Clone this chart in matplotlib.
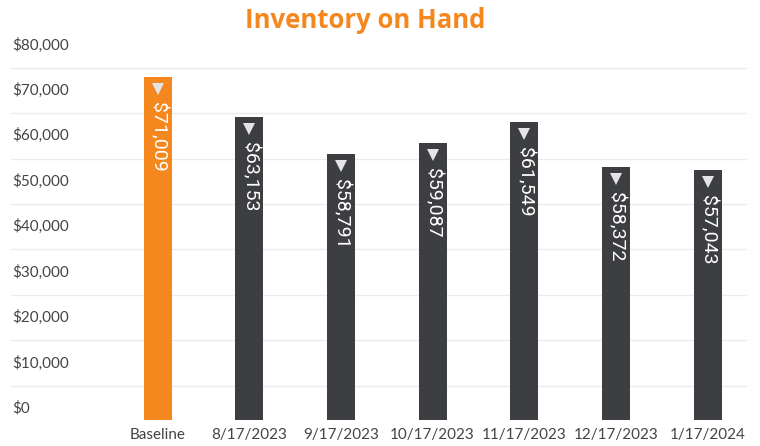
import matplotlib
matplotlib.use("Agg")
import matplotlib.pyplot as plt
import numpy as np

# ---------------------------------------------------------------------------
# Data (bar heights; labels as printed on the bars)
# ---------------------------------------------------------------------------
categories = ["Baseline", "8/17/2023", "9/17/2023", "10/17/2023",
              "11/17/2023", "12/17/2023", "1/17/2024"]
bar_heights = [72900, 64200, 56000, 58350, 62950, 53200, 52450]
bar_labels = [71009, 63153, 58791, 59087, 61549, 58372, 57043]
y_ticks = [0, 10000, 20000, 30000, 40000, 50000, 60000, 70000, 80000]
grid_lines = [5000, 15000, 25000, 35000, 45000, 55000, 65000, 75000]

ORANGE = "#F5871F"
DARK = "#3D3E42"
TEXT = "#444444"
Y_FLOOR = -2530

plt.rcParams["font.family"] = ["Lato", "DejaVu Sans"]

fig = plt.figure(figsize=(7.6, 4.46), dpi=100)
ax = fig.add_axes([11 / 760, 1 - 420 / 446, 736 / 760, 380 / 446])

x = np.arange(len(categories))
colors = [ORANGE] + [DARK] * (len(categories) - 1)
heights = np.array(bar_heights) - Y_FLOOR
ax.bar(x, heights, bottom=Y_FLOOR, width=0.305, color=colors, zorder=2)

for g in grid_lines:
    ax.axhline(g, color="#ebebeb", linewidth=1, zorder=1)

shift = matplotlib.transforms.ScaledTranslation(0, -12 / 100, fig.dpi_scale_trans)
for xi, top, val in zip(x, bar_heights, bar_labels):
    ax.plot(xi, top, marker="v", markersize=8.5, color="#e4e4e6",
            markeredgewidth=0, linestyle="none", zorder=3,
            transform=ax.transData + shift)
    ax.annotate(f"${val:,}", xy=(xi, top), xytext=(0, -18),
                textcoords="offset points", rotation=270,
                ha="center", va="top", color="white", fontsize=14,
                family=["Roboto", "DejaVu Sans"], zorder=4)

trans = matplotlib.transforms.blended_transform_factory(ax.transAxes, ax.transData)
for t in y_ticks:
    ax.text(0.002, t, f"${t:,}", transform=trans, ha="left", va="center",
            fontsize=11, color=TEXT, clip_on=False)

ax.set_xlim(-1.60, 6.43)
ax.set_ylim(Y_FLOOR, 81070)
ax.set_xticks(x)
ax.set_xticklabels(categories, fontsize=11, color=TEXT)
ax.tick_params(axis="x", length=0, pad=6)
ax.set_yticks([])
for spine in ax.spines.values():
    spine.set_visible(False)

fig.text(365 / 760, 1 - 21 / 446, "Inventory on Hand", ha="center", va="center",
         fontsize=18.5, fontweight="bold", color=ORANGE,
         family=["Open Sans", "DejaVu Sans"])

fig.savefig("out.png", dpi=100, facecolor="white")
